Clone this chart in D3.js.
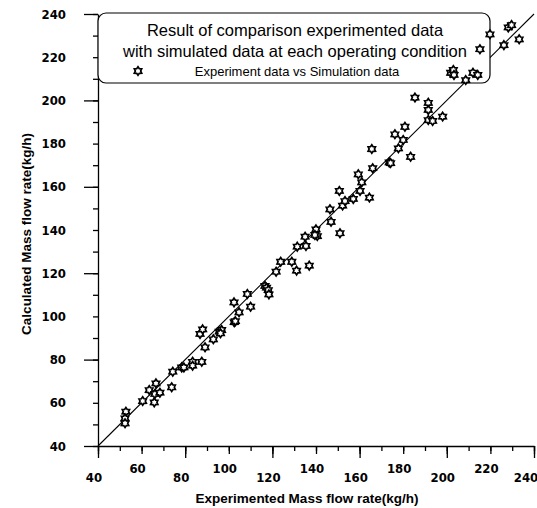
<!DOCTYPE html>
<html lang="en">
<head>
  <meta charset="UTF-8">
  <title>index</title>
  <style type="text/css">
    body {
      margin: 0;
      background: #fff;
    }
    .tick-label {
      font-family: "Liberation Sans Narrow", "DejaVu Sans Condensed", sans-serif;
      font-weight: bold;
      font-size: 13px;
    }
    .axis-title {
      font-family: "Liberation Sans", Arial, sans-serif;
      font-weight: bold;
      font-size: 13.5px;
    }
    .legend-text {
      font-family: "Liberation Sans", Arial, sans-serif;
    }
  </style>
</head>
<body>

  <svg id="chart" width="537" height="508"></svg>

<script src="https://cdn.jsdelivr.net/npm/d3@7"></script>
<script>
  // experimented vs calculated mass flow rate (kg/h)
  const expFlow = [
    52.8, 52.4, 52.4, 60.5, 63.5, 65.8, 66.1, 66.6, 68.4, 73.8,
    74.3, 78.4, 79.4, 83.4, 83.4, 87.6, 86.8, 88.0, 89.1, 92.9,
    95.6, 96.7, 96.2, 102.5, 103.0, 104.7, 102.4, 110.0, 108.5, 116.6,
    117.3, 118.1, 118.4, 121.7, 123.8, 128.9, 131.1, 136.9, 131.4, 135.4,
    135.0, 140.0, 140.6, 139.5, 151.0, 146.9, 146.4, 152.2, 153.3, 157.1,
    150.7, 160.2, 164.5, 161.0, 159.4, 166.0, 165.6, 173.6, 174.2, 177.8,
    180.0, 176.2, 180.8, 183.4, 185.4, 191.5, 191.5, 191.5, 193.5, 198.1,
    201.8, 203.0, 203.3, 208.7, 212.0, 214.2, 215.2, 219.8, 226.2, 228.2,
    229.7, 233.2
  ]
  const calcFlow = [
    55.9, 52.8, 50.5, 60.8, 65.9, 60.2, 64.1, 69.0, 64.7, 67.2,
    74.4, 76.4, 76.4, 79.0, 77.2, 79.0, 91.9, 94.0, 85.7, 89.4,
    92.9, 93.7, 92.2, 97.3, 97.8, 101.9, 106.5, 104.5, 110.4, 114.1,
    113.3, 112.2, 110.2, 120.7, 125.3, 125.3, 121.2, 123.5, 132.3, 132.6,
    136.9, 140.3, 137.2, 137.7, 138.5, 143.8, 149.6, 151.3, 153.4, 154.4,
    158.1, 158.1, 155.0, 162.1, 165.8, 168.6, 177.5, 171.3, 171.0, 177.8,
    181.7, 184.3, 187.8, 173.9, 201.3, 198.9, 195.6, 190.9, 190.5, 192.5,
    212.8, 214.1, 211.8, 209.4, 212.8, 211.8, 223.7, 230.6, 225.6, 233.8,
    234.9, 228.3
  ]

  const tickLabels = [40, 60, 80, 100, 120, 140, 160, 180, 200, 220, 240]
  const minorTicks = d3.range(40, 241, 10)
  const longTicks = [40, 80, 120, 160, 200, 240]
  const parityLine = [40, 240]
  const legendTitle = [
    'Result of comparison experimented data',
    'with simulated data at each operating condition'
  ]
  const legendLabel = 'Experiment data vs Simulation data'

  const svg = d3.select('#chart')

  const x = d3.scaleLinear().domain([40, 240]).range([98, 534])
  const y = d3.scaleLinear().domain([40, 240]).range([446, 14])

  // six pointed star marker
  const hexStar = {
    draw (context, size) {
      const r = Math.sqrt(size) / 2
      for (let i = 0; i < 12; i++) {
        const a = Math.PI / 6 * i - Math.PI / 2
        const rr = i % 2 === 0 ? r : r * 0.62
        if (i === 0) context.moveTo(rr * Math.cos(a), rr * Math.sin(a))
        else context.lineTo(rr * Math.cos(a), rr * Math.sin(a))
      }
      context.closePath()
    }
  }
  const marker = d3.symbol().type(hexStar).size(72)

  // y axis
  svg.append('g')
    .attr('transform', 'translate(' + x(40) + ',0)')
    .call(d3.axisLeft(y).tickValues(minorTicks).tickSize(5).tickSizeOuter(0).tickFormat(''))
  svg.append('g')
    .attr('transform', 'translate(' + x(40) + ',0)')
    .call(d3.axisLeft(y).tickValues(longTicks).tickSize(14).tickFormat(''))
    .call(g => g.select('.domain').remove())

  // x axis
  svg.append('g')
    .attr('transform', 'translate(0,' + y(40) + ')')
    .call(d3.axisBottom(x).tickValues(minorTicks).tickSize(5).tickSizeOuter(0).tickFormat(''))
  svg.append('g')
    .attr('transform', 'translate(0,' + y(40) + ')')
    .call(d3.axisBottom(x).tickValues(tickLabels).tickSize(8).tickFormat(''))
    .call(g => g.select('.domain').remove())
  svg.append('g')
    .attr('transform', 'translate(0,' + y(40) + ')')
    .call(d3.axisBottom(x).tickValues(longTicks).tickSize(12).tickFormat(''))
    .call(g => g.select('.domain').remove())

  svg.selectAll('.domain, .tick line').attr('stroke', '#000').attr('stroke-width', 1.3)

  svg.append('g').selectAll('text')
    .data(tickLabels)
    .join('text')
    .attr('class', 'tick-label')
    .attr('x', d => Math.min(x(d) - 4, 526))
    .attr('y', (d, i) => i % 2 === 0 ? 482 : 473)
    .attr('text-anchor', 'middle')
    .text(d => d)

  svg.append('g').selectAll('text')
    .data(tickLabels)
    .join('text')
    .attr('class', 'tick-label')
    .attr('x', 66)
    .attr('y', d => y(d) + 4.5)
    .attr('text-anchor', 'end')
    .text(d => d)

  svg.append('text')
    .attr('class', 'axis-title')
    .attr('x', 307)
    .attr('y', 503)
    .attr('text-anchor', 'middle')
    .text('Experimented Mass flow rate(kg/h)')

  svg.append('text')
    .attr('class', 'axis-title')
    .attr('transform', 'translate(31,234) rotate(-90)')
    .attr('text-anchor', 'middle')
    .text('Calculated Mass flow rate(kg/h)')

  // y = x line
  svg.append('path')
    .datum(parityLine)
    .attr('d', d3.line().x(d => x(d)).y(d => y(d)))
    .attr('stroke', '#000')
    .attr('stroke-width', 1.1)
    .attr('fill', 'none')

  // legend box
  svg.append('rect')
    .attr('x', 98)
    .attr('y', 13)
    .attr('width', 392)
    .attr('height', 70)
    .attr('rx', 8)
    .attr('fill', '#fff')
    .attr('stroke', '#000')
    .attr('stroke-width', 1.2)

  svg.append('g').selectAll('text')
    .data(legendTitle)
    .join('text')
    .attr('class', 'legend-text')
    .attr('x', 295)
    .attr('y', (d, i) => 36 + i * 21)
    .attr('text-anchor', 'middle')
    .style('font-size', '16.5px')
    .text(d => d)

  svg.append('path')
    .attr('d', marker())
    .attr('transform', 'translate(138,71)')
    .attr('fill', '#fff')
    .attr('stroke', '#000')
    .attr('stroke-width', 1.7)

  svg.append('text')
    .attr('class', 'legend-text')
    .attr('x', 297)
    .attr('y', 76)
    .attr('text-anchor', 'middle')
    .style('font-size', '13px')
    .text(legendLabel)

  // data points
  svg.append('g').selectAll('path')
    .data(expFlow.map((d, i) => [d, calcFlow[i]]))
    .join('path')
    .attr('d', marker())
    .attr('transform', d => 'translate(' + x(d[0]) + ',' + y(d[1]) + ')')
    .attr('fill', '#fff')
    .attr('stroke', '#000')
    .attr('stroke-width', 1.7)
</script>
</body>
</html>
